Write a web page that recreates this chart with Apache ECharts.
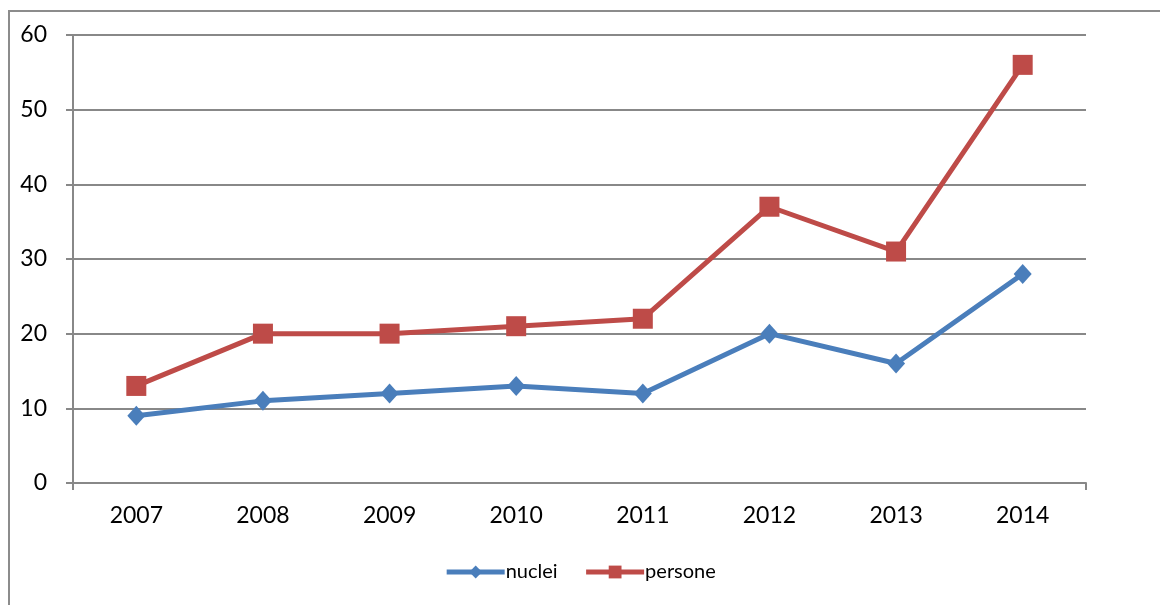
<!DOCTYPE html>
<html><head><meta charset="utf-8">
<script src="https://cdn.jsdelivr.net/npm/echarts@6/dist/echarts.min.js"></script>
<style>html,body{margin:0;padding:0;background:#fff}#c{width:1160px;height:605px}
#b{position:absolute;left:8px;top:10px;width:1160px;height:620px;border:2px solid #8c8c8c;box-sizing:border-box}</style>
</head><body><div id="b"></div><div id="c" style="position:absolute;left:0;top:0"></div>
<script>
const categories = ['2007','2008','2009','2010','2011','2012','2013','2014'];
const nuclei = [9, 11, 12, 13, 12, 20, 16, 28];
const persone = [13, 20, 20, 21, 22, 37, 31, 56];
const yTicks = [0, 10, 20, 30, 40, 50, 60];

const chart = echarts.init(document.getElementById('c'));
const gray = '#888888';
const font = 'Lato, "Open Sans", sans-serif';
chart.setOption({
  animation: false,
  grid: {left: 73, right: 74, top: 35, bottom: 122},
  legend: {
    top: 557, left: 'center', itemWidth: 58, itemHeight: 16, itemGap: 26,
    lineStyle: {width: 5},
    textStyle: {fontSize: 20, color: '#000', fontFamily: font, padding: [0,0,0,-4]},
    data: ['nuclei', 'persone']
  },
  xAxis: [{
    type: 'category', data: categories, boundaryGap: true,
    axisLine: {lineStyle: {color: gray, width: 2}},
    axisTick: {alignWithLabel: true, length: 7, lineStyle: {color: gray, width: 2}},
    axisLabel: {fontSize: 23, color: '#000', margin: 21, fontFamily: font}
  }, {
    type: 'value', min: 0, max: 8, interval: 8, position: 'bottom',
    axisLine: {show: false}, splitLine: {show: false},
    axisTick: {show: true, length: 7, lineStyle: {color: gray, width: 2}},
    axisLabel: {show: false}
  }],
  yAxis: {
    type: 'value', min: yTicks[0], max: yTicks[yTicks.length-1], interval: 10,
    axisLine: {show: true, lineStyle: {color: gray, width: 2}},
    axisTick: {show: true, length: 7, lineStyle: {color: gray, width: 2}},
    splitLine: {lineStyle: {color: gray, width: 2}},
    axisLabel: {fontSize: 23, color: '#000', margin: 26, fontFamily: font}
  },
  series: [{
    name: 'nuclei', type: 'line', data: nuclei, xAxisIndex: 0,
    symbol: 'diamond', symbolSize: [18, 20],
    lineStyle: {color: '#4A7EBB', width: 5}, itemStyle: {color: '#4A7EBB'}
  }, {
    name: 'persone', type: 'line', data: persone, xAxisIndex: 0,
    symbol: 'rect', symbolSize: 20,
    lineStyle: {color: '#BE4B48', width: 5}, itemStyle: {color: '#BE4B48'}
  }]
});
</script></body></html>
